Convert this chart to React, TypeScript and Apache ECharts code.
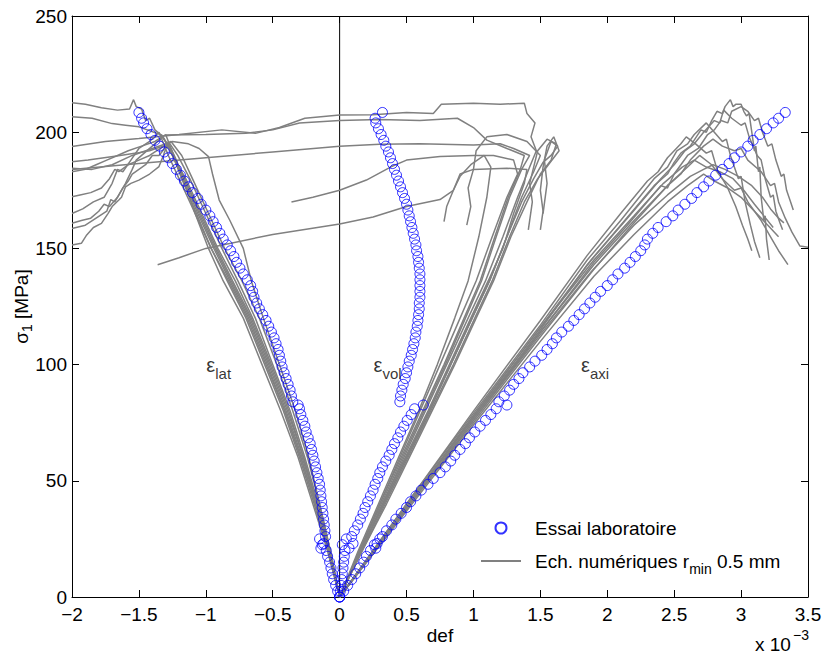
import React, { useEffect, useRef } from 'react';
import * as echarts from 'echarts';

const FONT = '"Liberation Sans", Arial, Helvetica, sans-serif';
const LAB = 'Essai laboratoire';
const NUM = 'Ech. numériques r_min 0.5 mm';

// Axis ranges (x in 1e-3)
const xMin = -2, xMax = 3.5, xStep = 0.5;
const yMin = 0, yMax = 250, yStep = 50;

// ---- Lab test (blue circles): stress and the three strains ----
const labStress = [0, 2.5, 5, 7.5, 10, 12.5, 15, 17.5, 20, 22.5, 25, 21, 23, 26, 28.5, 31, 33.5, 36, 38.5, 41, 43.5, 46, 48.5, 51, 53.5, 56, 58.5, 61, 63.5, 66, 68.5, 71, 73.5, 76, 78.5, 81, 82.6, 84, 86.5, 89, 91.5, 94, 96.5, 99, 101.5, 104, 106.5, 109, 111.5, 114, 116.5, 119, 121.5, 124, 126.5, 129, 131.5, 134, 136.5, 139, 141.5, 144, 146.5, 149, 151.5, 154, 156.5, 159, 161.5, 164, 166.5, 169, 171.5, 174, 176.5, 179, 181.5, 184, 186.5, 189, 191.5, 194, 196.5, 199, 201.5, 204, 206, 208.5];
const labAxi = [0, 0.03, 0.06, 0.09, 0.12, 0.15, 0.18, 0.2, 0.23, 0.26, 0.3, 0.27, 0.28, 0.32, 0.35, 0.39, 0.42, 0.46, 0.5, 0.53, 0.57, 0.61, 0.66, 0.7, 0.75, 0.79, 0.83, 0.86, 0.9, 0.94, 0.97, 1.01, 1.05, 1.09, 1.13, 1.17, 1.25, 1.19, 1.23, 1.27, 1.3, 1.34, 1.37, 1.42, 1.46, 1.51, 1.55, 1.59, 1.62, 1.66, 1.71, 1.75, 1.79, 1.83, 1.87, 1.91, 1.95, 2.0, 2.04, 2.08, 2.13, 2.17, 2.21, 2.25, 2.28, 2.3, 2.34, 2.38, 2.44, 2.49, 2.53, 2.58, 2.63, 2.67, 2.72, 2.76, 2.81, 2.86, 2.91, 2.95, 3.0, 3.05, 3.09, 3.14, 3.19, 3.24, 3.28, 3.33];
const labLat = [0, -0.015, -0.03, -0.045, -0.055, -0.065, -0.075, -0.09, -0.1, -0.13, -0.15, -0.14, -0.12, -0.105, -0.11, -0.115, -0.12, -0.125, -0.13, -0.135, -0.14, -0.145, -0.15, -0.16, -0.17, -0.18, -0.19, -0.2, -0.21, -0.22, -0.235, -0.25, -0.26, -0.275, -0.29, -0.3, -0.31, -0.35, -0.36, -0.37, -0.385, -0.4, -0.415, -0.43, -0.44, -0.45, -0.46, -0.475, -0.49, -0.51, -0.53, -0.55, -0.575, -0.6, -0.62, -0.64, -0.65, -0.665, -0.69, -0.72, -0.745, -0.77, -0.79, -0.815, -0.84, -0.87, -0.895, -0.92, -0.945, -0.97, -1.0, -1.035, -1.06, -1.1, -1.13, -1.16, -1.19, -1.22, -1.25, -1.28, -1.31, -1.345, -1.38, -1.41, -1.44, -1.465, -1.48, -1.5];
const labVol = [0, 0.005, 0.01, 0.015, 0.02, 0.025, 0.03, 0.035, 0.04, 0.02, 0.05, 0.07, 0.1, 0.09, 0.11, 0.135, 0.155, 0.175, 0.19, 0.21, 0.23, 0.25, 0.265, 0.285, 0.3, 0.32, 0.345, 0.37, 0.39, 0.41, 0.435, 0.455, 0.48, 0.505, 0.535, 0.56, 0.625, 0.45, 0.455, 0.465, 0.475, 0.49, 0.5, 0.51, 0.52, 0.535, 0.545, 0.555, 0.565, 0.57, 0.58, 0.585, 0.59, 0.595, 0.595, 0.6, 0.6, 0.6, 0.6, 0.6, 0.595, 0.59, 0.585, 0.575, 0.57, 0.56, 0.55, 0.54, 0.53, 0.52, 0.51, 0.5, 0.485, 0.47, 0.455, 0.44, 0.425, 0.41, 0.395, 0.38, 0.365, 0.345, 0.33, 0.31, 0.29, 0.27, 0.265, 0.32];

// ---- Numerical samples (grey lines): [strain, stress] ----
const s1Lat = [[0,0],[-0.08,20],[-0.17,40],[-0.27,60],[-0.38,80],[-0.51,100],[-0.65,120],[-0.78,136],[-0.91,150],[-1.03,165],[-1.15,180],[-1.25,190],[-1.3,196],[-1.34,199],[-1.38,201],[-1.42,206],[-1.45,205],[-1.48,210],[-1.52,211],[-1.54,214],[-1.57,210],[-1.66,209.5],[-1.78,210.5],[-1.9,212],[-2.0,212.7]];
const s1Axi = [[0,0],[0.5,39],[1.0,77],[1.5,115],[1.85,143],[2.1,160],[2.35,177],[2.45,182],[2.5,187],[2.55,191],[2.62,194],[2.7,201],[2.74,200],[2.78,205],[2.82,209],[2.86,208],[2.88,211],[2.92,214],[2.94,211],[2.96,212],[3.0,212],[3.02,209],[3.04,207],[3.06,208],[3.08,200],[3.1,192],[3.11,194],[3.13,183],[3.14,185],[3.15,172],[3.17,162],[3.18,164],[3.19,154],[3.21,145]];
const s1Vol = [[0,0],[0.16,20],[0.32,40],[0.48,60],[0.64,80],[0.8,100],[0.96,120],[1.09,136],[1.22,155],[1.33,172],[1.42,185],[1.47,192],[1.43,198],[1.46,204],[1.4,208],[1.38,212.5],[1.2,212],[1.0,212.5],[0.76,212],[0.7,208],[0.5,208.5],[0.25,207.5],[0,207.4],[-0.26,206],[-0.45,202],[-0.63,199.5],[-0.88,201],[-1.2,199],[-1.5,197.3],[-1.75,196],[-2.0,193.8]];

const s2Lat = [[0,0],[-0.07,20],[-0.16,40],[-0.26,60],[-0.37,80],[-0.5,100],[-0.63,120],[-0.76,136],[-0.88,150],[-1.0,165],[-1.12,180],[-1.21,190],[-1.28,196],[-1.32,189.5],[-1.35,185.2],[-1.42,182],[-1.5,179.4],[-1.56,178],[-1.6,176.5],[-1.63,172],[-1.65,170.8],[-1.7,168],[-1.73,165.1],[-1.78,160.8],[-1.84,159],[-1.89,155.8],[-1.93,152.2],[-2.0,151.5]];
const s2Axi = [[0,0],[0.5,38],[1.0,76],[1.5,114],[1.9,144],[2.15,160],[2.4,177],[2.45,176],[2.5,182],[2.6,190],[2.68,193],[2.75,199],[2.8,201],[2.85,205],[2.9,204],[2.93,209],[3.0,211],[3.05,209],[3.1,205],[3.13,206],[3.16,200],[3.2,194],[3.23,195],[3.26,188],[3.3,181],[3.32,182],[3.34,175],[3.37,170],[3.39,166.5]];
const s2Vol = [[0,0],[0.15,20],[0.3,40],[0.46,60],[0.62,80],[0.78,100],[0.93,120],[1.05,136],[1.16,155],[1.26,172],[1.35,184],[1.38,190],[1.25,193],[1.1,196.6],[1.0,202],[0.88,206],[0.6,205],[0.3,205.5],[0,205],[-0.3,204],[-0.5,201],[-0.7,199.5],[-1.0,199],[-1.3,198.8]];

const s3Lat = [[0,0],[-0.09,20],[-0.19,40],[-0.3,60],[-0.42,80],[-0.56,100],[-0.7,120],[-0.84,136],[-0.96,150],[-1.07,165],[-1.18,180],[-1.24,189],[-1.28,195],[-1.35,190],[-1.4,190],[-1.45,186],[-1.55,182],[-1.58,179],[-1.62,176],[-1.68,170],[-1.71,171],[-1.74,166],[-1.82,163],[-1.9,160],[-2.0,158.6]];
const s3Axi = [[0,0],[0.5,39],[1.0,78],[1.5,116],[1.88,145],[2.15,163],[2.4,180],[2.5,186],[2.58,192],[2.65,195],[2.72,200],[2.8,205],[2.84,204],[2.87,209.5],[2.93,206],[3.0,203],[3.03,204],[3.06,198],[3.12,190],[3.15,188],[3.18,180],[3.22,172],[3.24,173],[3.26,166],[3.29,161],[3.31,158]];
const s3Vol = [[0,0],[0.14,20],[0.29,40],[0.44,60],[0.59,80],[0.73,100],[0.86,120],[0.96,136],[1.04,155],[1.1,172],[1.13,185],[1.08,190],[0.98,186],[0.9,181],[0.85,175],[0.8,168],[0.78,161.5]];

const s4Lat = [[0,0],[-0.08,20],[-0.18,40],[-0.29,60],[-0.41,80],[-0.54,100],[-0.68,120],[-0.82,136],[-0.94,150],[-1.06,165],[-1.17,180],[-1.25,190],[-1.32,198],[-1.4,194],[-1.48,190],[-1.52,188],[-1.55,184],[-1.6,178],[-1.66,172],[-1.72,168],[-1.76,169],[-1.8,166],[-1.86,163],[-1.93,162],[-2.0,160.8]];
const s4Axi = [[0,0],[0.5,40],[1.0,79],[1.5,117],[1.85,145],[2.1,162],[2.35,180],[2.45,185],[2.52,192],[2.6,195],[2.65,199],[2.74,204],[2.8,200],[2.86,196],[2.89,197],[2.92,190],[2.98,180],[3.0,181],[3.03,170],[3.07,160],[3.1,153],[3.14,146]];
const s4Vol = [[0,0],[0.16,20],[0.33,40],[0.5,60],[0.67,80],[0.83,100],[0.99,120],[1.12,136],[1.25,155],[1.36,172],[1.45,183],[1.5,190],[1.4,196],[1.25,199],[1.1,198],[1.02,192],[1.0,184],[0.96,176],[0.98,168],[0.95,160]];

const s5Lat = [[0,0],[-0.07,20],[-0.15,40],[-0.24,60],[-0.35,80],[-0.47,100],[-0.6,120],[-0.73,136],[-0.86,150],[-0.98,165],[-1.1,180],[-1.18,190],[-1.26,196],[-1.34,193],[-1.42,190],[-1.5,188],[-1.58,186],[-1.65,183],[-1.68,184],[-1.72,180],[-1.78,176],[-1.86,174],[-1.94,173],[-2.0,172.2]];
const s5Axi = [[0,0],[0.5,38],[1.0,75],[1.5,112],[1.9,141],[2.2,161],[2.45,177],[2.55,182],[2.62,188],[2.72,194],[2.79,197],[2.86,194],[2.95,192],[3.0,193],[3.05,188],[3.15,183],[3.22,177],[3.25,178],[3.28,170],[3.33,163],[3.38,157],[3.44,151],[3.5,150.5]];
const s5Vol = [[0,0],[0.15,20],[0.31,40],[0.47,60],[0.63,80],[0.79,100],[0.94,120],[1.06,136],[1.17,155],[1.27,172],[1.36,184],[1.42,190],[1.3,193],[1.2,195],[1.0,194.5],[0.6,195],[0.3,194.8],[0,194],[-0.5,191.5],[-1.0,189],[-1.5,186.5],[-2.0,184]];

const s6Lat = [[0,0],[-0.08,20],[-0.17,40],[-0.28,60],[-0.4,80],[-0.53,100],[-0.67,120],[-0.81,136],[-0.93,150],[-1.05,165],[-1.16,180],[-1.24,190],[-1.3,199],[-1.38,196],[-1.48,194],[-1.58,192],[-1.66,190],[-1.74,188],[-1.82,186],[-1.9,184],[-2.0,183]];
const s6Axi = [[0,0],[0.5,40],[1.0,80],[1.5,119],[1.85,147],[2.1,165],[2.3,179],[2.38,183],[2.45,189],[2.55,195],[2.59,198],[2.66,195],[2.74,191],[2.78,192],[2.82,184],[2.9,176],[2.96,168],[3.01,160],[3.05,154],[3.08,149]];
const s6Vol = [[0,0],[0.15,20],[0.3,40],[0.45,60],[0.6,80],[0.75,100],[0.9,120],[1.02,136],[1.14,155],[1.25,172],[1.33,182],[1.3,188],[1.15,190],[1.0,190],[0.75,189.5],[0.5,188],[0.38,185],[0.2,179.4],[0,175],[-0.2,172],[-0.36,170]];

const s7Lat = [[0,0],[-0.09,20],[-0.2,40],[-0.31,60],[-0.44,80],[-0.58,100],[-0.72,120],[-0.87,136],[-0.98,150],[-1.08,165],[-1.16,178],[-1.22,188],[-1.26,193],[-1.32,194],[-1.42,192],[-1.52,191],[-1.64,190],[-1.76,189],[-1.88,188],[-2.0,187.3]];
const s7Axi = [[0,0],[0.5,39],[1.0,77],[1.5,114],[1.9,143],[2.2,162],[2.45,177],[2.6,185],[2.69,190],[2.78,186],[2.86,180],[2.95,175],[3.0,176],[3.05,170],[3.15,162],[3.22,155],[3.28,149],[3.35,143]];
const s7Vol = [[0,0],[0.16,20],[0.32,40],[0.49,60],[0.66,80],[0.82,100],[0.98,120],[1.11,136],[1.22,150],[1.3,165],[1.38,178],[1.4,184],[1.25,184.5],[1.0,184],[0.9,182],[0.85,175],[0.75,171],[0.5,168],[0.25,163.5],[0,160.5],[-0.5,156],[-1.0,150],[-1.2,146],[-1.36,143]];

const s8Lat = [[0,0],[-0.08,20],[-0.18,40],[-0.29,60],[-0.41,80],[-0.55,100],[-0.69,120],[-0.83,136],[-0.96,150],[-1.08,165],[-1.2,180],[-1.28,190],[-1.35,200],[-1.42,196],[-1.5,193],[-1.56,188],[-1.62,183],[-1.66,184],[-1.7,178],[-1.76,172],[-1.84,170],[-1.92,167],[-2.0,165]];
const s8Axi = [[0,0],[0.5,38],[1.0,76],[1.5,113],[1.88,140],[2.2,160],[2.45,173],[2.62,181],[2.72,184],[2.79,186],[2.88,184],[2.98,181],[3.08,177],[3.16,172],[3.22,167],[3.28,163],[3.32,161]];
const s8Vol = [[0,0],[0.17,20],[0.35,40],[0.52,60],[0.69,80],[0.86,100],[1.02,120],[1.15,136],[1.28,155],[1.4,170],[1.5,182],[1.58,188],[1.62,195],[1.55,197],[1.48,192],[1.45,185],[1.42,178],[1.44,170],[1.41,158]];

const s9Lat = [[0,0],[-0.07,20],[-0.15,40],[-0.23,60],[-0.33,80],[-0.45,100],[-0.57,120],[-0.66,136],[-0.72,150],[-0.82,162],[-0.9,170.8],[-0.95,182],[-0.98,189.5],[-1.05,193],[-1.13,195],[-1.25,196],[-1.4,193],[-1.55,190],[-1.7,186],[-1.85,184],[-2.0,184.5]];
const s9Axi = [[0,0],[0.5,39],[1.0,78],[1.5,116],[1.9,145],[2.2,164],[2.42,178],[2.56,185],[2.65,188],[2.74,185],[2.84,183],[2.94,180],[3.02,175],[3.1,169],[3.17,164],[3.24,159]];
const s9Vol = [[0,0],[0.17,20],[0.34,40],[0.51,60],[0.68,80],[0.85,100],[1.01,120],[1.14,136],[1.27,155],[1.38,170],[1.48,180],[1.56,186],[1.64,192],[1.6,198],[1.55,194],[1.52,185],[1.5,175],[1.52,166],[1.5,158]];

const s10Lat = [[0,0],[-0.08,20],[-0.17,40],[-0.27,60],[-0.39,80],[-0.52,100],[-0.66,120],[-0.8,136],[-0.92,150],[-1.04,165],[-1.16,180],[-1.24,190],[-1.3,196],[-1.33,198.8],[-1.5,202.3],[-1.6,203],[-1.7,203.7],[-1.85,206],[-2.0,206.7]];
const s10Axi = [[0,0],[0.5,37],[1.0,74],[1.5,110],[1.9,138],[2.2,156],[2.45,170],[2.6,177],[2.72,182],[2.8,179],[2.9,176],[3.0,172],[3.1,166],[3.2,160],[3.28,155]];
const s10Vol = [[0,0],[0.16,20],[0.33,40],[0.5,60],[0.67,80],[0.83,100],[0.99,120],[1.12,136],[1.25,155],[1.36,170],[1.45,180],[1.52,187],[1.58,190],[1.63,194],[1.58,196],[1.53,188],[1.55,178],[1.52,165]];

const numBranches = [
  s1Lat, s1Axi, s1Vol, s2Lat, s2Axi, s2Vol, s3Lat, s3Axi, s3Vol, s4Lat, s4Axi, s4Vol,
  s5Lat, s5Axi, s5Vol, s6Lat, s6Axi, s6Vol, s7Lat, s7Axi, s7Vol, s8Lat, s8Axi, s8Vol,
  s9Lat, s9Axi, s9Vol, s10Lat, s10Axi, s10Vol,
];

// Annotation labels (ε_lat, ε_vol, ε_axi)
const epsX = [-1.0, 0.25, 1.8];
const epsY = [100, 100, 100];
const epsSub = ['lat', 'vol', 'axi'];

const zeroLine = [[0, 0], [0, 250]];

const fmt = (v: number) => (v < 0 ? '\u2212' + String(Math.abs(v)) : String(v));

export default function App() {
  const ref = useRef<HTMLDivElement>(null);
  useEffect(() => {
    document.body.style.margin = '0';
    if (!ref.current) return;
    const chart = echarts.init(ref.current, null, { renderer: 'svg' });

    const axisCommon = {
      axisLine: { show: true, onZero: false, lineStyle: { color: '#000', width: 1 } },
      axisTick: { show: true, inside: true, length: 7, lineStyle: { color: '#000', width: 1 } },
      splitLine: { show: false },
    };

    const numSeries = numBranches.map((d) => ({
      type: 'line',
      name: NUM,
      data: d,
      symbol: 'none',
      showSymbol: false,
      silent: true,
      lineStyle: { color: '#808080', width: 1.5 },
      itemStyle: { color: '#808080' },
      z: 2,
    }));

    const labSeries = [labLat, labVol, labAxi].map((arr) => ({
      type: 'scatter',
      name: LAB,
      data: labStress.map((s, i) => [arr[i], s]),
      symbol: 'circle',
      symbolSize: 10,
      silent: true,
      itemStyle: { color: 'rgba(0,0,0,0)', borderColor: '#0000ff', borderWidth: 1 },
      z: 3,
    }));

    const option = {
      animation: false,
      backgroundColor: '#ffffff',
      textStyle: { fontFamily: FONT },
      grid: { left: 72, right: 17, top: 16, bottom: 60, containLabel: false, outerBoundsMode: 'none' },
      xAxis: [
        {
          type: 'value', min: xMin, max: xMax, interval: xStep, position: 'bottom',
          name: 'def', nameLocation: 'middle', nameGap: 29, nameMoveOverlap: false,
          nameTextStyle: { fontSize: 19, color: '#000', fontFamily: FONT },
          axisLabel: { fontSize: 19, color: '#000', margin: 8, fontFamily: FONT, formatter: fmt },
          ...axisCommon,
        },
        {
          type: 'value', min: xMin, max: xMax, interval: xStep, position: 'top',
          axisLabel: { show: false },
          ...axisCommon,
        },
      ],
      yAxis: [
        {
          type: 'value', min: yMin, max: yMax, interval: yStep, position: 'left',
          name: '{a|σ}{s|1}{a| [MPa]}', nameLocation: 'middle', nameGap: 40, nameRotate: 90,
          nameMoveOverlap: false,
          nameTextStyle: {
            color: '#000', fontFamily: FONT, fontSize: 19, lineHeight: 22,
            rich: {
              a: { fontSize: 19, color: '#000', fontFamily: FONT, lineHeight: 22 },
              s: { fontSize: 14, color: '#000', fontFamily: FONT, lineHeight: 22, padding: [12, 0, 0, 0] },
            },
          },
          axisLabel: { fontSize: 19, color: '#000', margin: 5, fontFamily: FONT, formatter: fmt },
          ...axisCommon,
        },
        {
          type: 'value', min: yMin, max: yMax, interval: yStep, position: 'right',
          axisLabel: { show: false },
          ...axisCommon,
        },
      ],
      legend: {
        data: [
          { name: LAB },
          { name: NUM, itemStyle: { color: 'rgba(0,0,0,0)', borderWidth: 0, opacity: 0 } },
        ],
        orient: 'vertical',
        left: 480,
        top: 518,
        padding: 0,
        itemWidth: 40,
        itemHeight: 11,
        itemGap: 8,
        selectedMode: false,
        textStyle: {
          fontSize: 19, color: '#000', fontFamily: FONT, lineHeight: 20, padding: [0, 0, 0, 9],
          rich: {
            m: { fontSize: 19, color: '#000', fontFamily: FONT, lineHeight: 20 },
            sub: { fontSize: 14, color: '#000', fontFamily: FONT, lineHeight: 20, padding: [16, 0, 0, 0] },
          },
        },
        formatter: (name: string) =>
          name === NUM ? '{m|Ech. numériques r}{sub|min}{m| 0.5 mm}' : '{m|' + name + '}',
      },
      graphic: [
        { type: 'text', left: 755, top: 635, style: { text: 'x 10', fontSize: 19, fill: '#000', fontFamily: FONT } },
        { type: 'text', left: 793, top: 628, style: { text: '\u22123', fontSize: 14, fill: '#000', fontFamily: FONT } },
      ],
      series: [
        {
          type: 'line', name: 'zero', data: zeroLine, symbol: 'none', silent: true,
          lineStyle: { color: '#000', width: 1 }, z: 1,
        },
        ...numSeries,
        ...labSeries,
        {
          type: 'scatter', name: 'annot', silent: true, symbolSize: 1,
          itemStyle: { color: 'rgba(0,0,0,0)' },
          data: epsX.map((x, i) => ({
            value: [x, epsY[i]],
            label: { formatter: '{e|ε}{s|' + epsSub[i] + '}' },
          })),
          label: {
            show: true, position: 'right', distance: 0, color: '#000',
            rich: {
              e: { fontSize: 20, color: '#000', fontFamily: FONT, lineHeight: 22 },
              s: { fontSize: 15, color: '#000', fontFamily: FONT, lineHeight: 22, padding: [18, 0, 0, 0] },
            },
          },
          z: 4,
        },
      ],
    };

    chart.setOption(option as any);
    return () => chart.dispose();
  }, []);

  return <div ref={ref} style={{ width: 825, height: 657 }} />;
}
